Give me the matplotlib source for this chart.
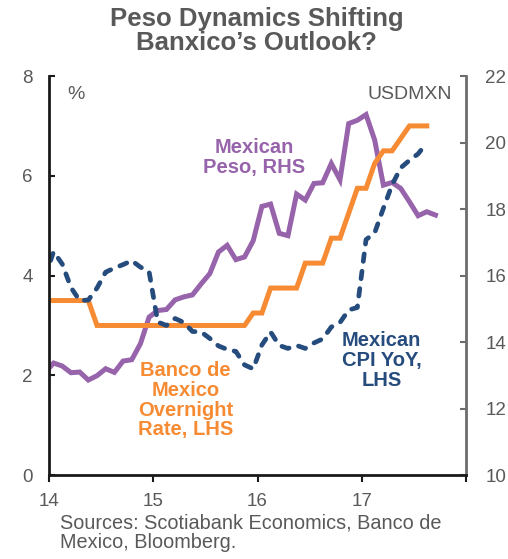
import numpy as np
import matplotlib
matplotlib.use("Agg")
import matplotlib.pyplot as plt

plt.rcParams["font.family"] = ["Liberation Sans", "DejaVu Sans"]

# monthly points, plotted mid-month; first point is Dec 2013
start_year = 13 + 11.5 / 12

rate = [3.5, 3.5, 3.5, 3.5, 3.5, 3.5,
        3.0, 3.0, 3.0, 3.0, 3.0, 3.0, 3.0,
        3.0, 3.0, 3.0, 3.0, 3.0, 3.0, 3.0, 3.0, 3.0, 3.0, 3.0,
        3.25, 3.25, 3.75, 3.75, 3.75, 3.75, 4.25, 4.25, 4.25, 4.75, 4.75, 5.25, 5.75,
        5.75, 6.25, 6.5, 6.5, 6.75, 7.0, 7.0, 7.0]

cpi = [3.97, 4.48, 4.23, 3.76, 3.50, 3.51, 3.75, 4.07, 4.15, 4.22, 4.30, 4.17, 4.08,
       3.07, 3.00, 3.14, 3.06, 2.88, 2.87, 2.74, 2.59, 2.52, 2.48, 2.21, 2.13,
       2.61, 2.87, 2.60, 2.54, 2.60, 2.54, 2.65, 2.73, 2.97, 3.06, 3.31, 3.36,
       4.72, 4.86, 5.35, 5.82, 6.16, 6.31, 6.44, 6.66]

peso = [13.08, 13.37, 13.28, 13.08, 13.10, 12.86, 12.99, 13.20, 13.09, 13.43, 13.47, 13.95, 14.75,
        14.95, 14.98, 15.27, 15.36, 15.42, 15.75, 16.06, 16.71, 16.91, 16.48, 16.56, 17.05,
        18.08, 18.15, 17.27, 17.20, 18.45, 18.27, 18.77, 18.79, 19.37, 18.88, 20.57, 20.67,
        20.84, 20.07, 18.72, 18.80, 18.62, 18.22, 17.80, 17.92, 17.82]

t_rate = start_year + np.arange(len(rate)) / 12
t_cpi = start_year + np.arange(len(cpi)) / 12
t_peso = start_year + np.arange(len(peso)) / 12

orange = "#F68B33"
navy = "#264C7D"
purple = "#9763AB"
gray = "#595959"

fig = plt.figure(figsize=(5.08, 5.59), dpi=100)
ax1 = fig.add_axes([0.097, 0.150, 0.820, 0.714])
ax2 = ax1.twinx()
ax1.set_zorder(ax2.get_zorder() + 1)
ax1.patch.set_visible(False)

ax2.plot(t_peso, peso, color=purple, lw=3.6, solid_joinstyle="miter")
ax1.plot(t_rate, rate, color=orange, lw=3.6, solid_joinstyle="miter")
ax1.plot(t_cpi, cpi, color=navy, lw=3.4, dashes=(1.6, 2.1), dash_capstyle="round")

ax1.set_xlim(14, 18)
ax1.set_ylim(0, 8)
ax2.set_ylim(10, 22)
ax1.set_xticks([14, 15, 16, 17, 18])
ax1.set_xticklabels(["14", "15", "16", "17", ""])
ax1.set_yticks([0, 2, 4, 6, 8])
ax2.set_yticks([10, 12, 14, 16, 18, 20, 22])

for ax in (ax1, ax2):
    ax.spines["top"].set_visible(False)
ax1.spines["right"].set_visible(False)
ax2.spines["left"].set_visible(False)
ax2.spines["bottom"].set_visible(False)
ax1.spines["left"].set_color("#1a1a1a")
ax1.spines["bottom"].set_color("#1a1a1a")
ax1.spines["left"].set_linewidth(2)
ax1.spines["bottom"].set_linewidth(2)
ax2.spines["right"].set_color("#6d6d6d")
ax2.spines["right"].set_linewidth(2)

ax1.tick_params(axis="y", direction="in", length=4, width=1.5, color="#1a1a1a",
                labelsize=13.5, labelcolor=gray, pad=12)
ax1.tick_params(axis="x", direction="out", length=5, width=1.5, color="#1a1a1a",
                labelsize=13.5, labelcolor=gray, pad=8)
ax2.tick_params(axis="y", direction="in", length=4, width=1.5, color="#6d6d6d",
                labelsize=13.5, labelcolor=gray, pad=14)

fig.text(0.505, 0.944, "Peso Dynamics Shifting\nBanxico\u2019s Outlook?", ha="center", va="center",
         fontsize=18.5, fontweight="bold", color=gray, linespacing=0.98)

ax1.text(14.17, 7.62, "%", fontsize=14, color=gray, ha="left", va="center")
ax1.text(17.87, 7.62, "USDMXN", fontsize=14, color=gray, ha="right", va="center")

ax1.text(15.97, 6.37, "Mexican\nPeso, RHS", fontsize=14.5, fontweight="bold", color=purple,
         ha="center", va="center", linespacing=1.05)
ax1.text(15.31, 1.5, "Banco de\nMexico\nOvernight\nRate, LHS", fontsize=14.5, fontweight="bold",
         color=orange, ha="center", va="center", linespacing=1.05)
ax1.text(17.19, 2.3, "Mexican\nCPI YoY,\nLHS", fontsize=14.5, fontweight="bold", color=navy,
         ha="center", va="center", linespacing=1.05)

fig.text(0.118, 0.047, "Sources: Scotiabank Economics, Banco de\nMexico, Bloomberg.",
         fontsize=14.3, color=gray, ha="left", va="center", linespacing=1.05)

fig.savefig("out.png", dpi=100)
